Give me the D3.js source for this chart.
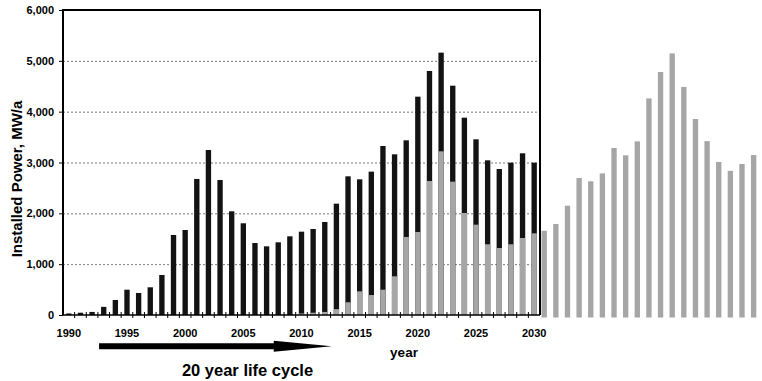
<!DOCTYPE html>
<html>
<head>
<meta charset="utf-8">
<script src="https://cdn.jsdelivr.net/npm/d3@7"></script>
<style>
  html, body { margin: 0; padding: 0; background: #fff; }
  svg { display: block; font-family: Arial, "Liberation Sans", sans-serif; }
</style>
</head>
<body>
<svg id="chart" width="762" height="381"></svg>
<script>
// Annual installed power, 1990-2030
const years = [1990,1991,1992,1993,1994,1995,1996,1997,1998,1999,
               2000,2001,2002,2003,2004,2005,2006,2007,2008,2009,
               2010,2011,2012,2013,2014,2015,2016,2017,2018,2019,
               2020,2021,2022,2023,2024,2025,2026,2027,2028,2029,2030];
const installed = [30,45,60,160,295,498,433,545,787,1574,
                   1672,2676,3246,2656,2040,1804,1416,1351,1430,1548,
                   1639,1692,1830,2190,2728,2669,2820,3325,3161,3436,
                   4295,4800,5161,4511,3882,3456,3043,2872,2997,3181,2997];
// Share of each year's installations that replaces retired plant (2010-2030)
const replacementYears = [2010,2011,2012,2013,2014,2015,2016,2017,2018,2019,
                          2020,2021,2022,2023,2024,2025,2026,2027,2028,2029,2030];
const replacement = [30,45,60,115,250,466,393,498,761,1535,
                     1633,2636,3220,2623,2007,1777,1391,1318,1391,1515,1607];
// Replacement demand continuing beyond the chart frame
const laterYears = [2031,2032,2033,2034,2035,2036,2037,2038,2039,2040,
                    2041,2042,2043,2044,2045,2046,2047,2048,2049,2050];
const laterReplacement = [1705,1840,2200,2745,2680,2835,3335,3190,3465,4310,
                          4830,5195,4535,3905,3470,3060,2885,3020,3195,2980];
const yTicks = [0,1000,2000,3000,4000,5000,6000];
const xLabelYears = [1990,1995,2000,2005,2010,2015,2020,2025,2030];

const svg = d3.select("#chart");
const plotLeft = 63, plotRight = 540, plotTop = 10, plotBottom = 315;
const step = (plotRight - plotLeft) / years.length;

const x = d3.scaleBand()
  .domain(years.concat(laterYears))
  .range([plotLeft, plotLeft + step * (years.length + laterYears.length)])
  .paddingInner(0.54)
  .paddingOuter(0.27);
const y = d3.scaleLinear().domain([0, 6000]).range([plotBottom, plotTop]);
const cx = yr => x(yr) + x.bandwidth() / 2;
const yearPos = d3.scaleLinear().domain([1990, 2030]).range([cx(1990), cx(2030)]);

const black = "#131313", grey = "#a6a6a6";

// Dotted gridlines
svg.append("g").selectAll("line")
  .data(yTicks.filter(v => v > 0 && v < 6000))
  .join("line")
  .attr("x1", plotLeft).attr("x2", plotRight)
  .attr("y1", d => y(d) + 0.5).attr("y2", d => y(d) + 0.5)
  .attr("stroke", "#777").attr("stroke-width", 1)
  .attr("stroke-dasharray", "2,2");

// Continuation bars (beyond 2030)
svg.append("g")
  .attr("transform", "translate(-1.6,2.5)")
  .selectAll("rect")
  .data(laterYears.map((yr, i) => ({ yr, v: laterReplacement[i] })))
  .join("rect")
  .attr("x", d => x(d.yr))
  .attr("width", x.bandwidth())
  .attr("y", d => y(d.v))
  .attr("height", d => y(0) - y(d.v))
  .attr("fill", grey);

// Total installations
svg.append("g").selectAll("rect")
  .data(years.map((yr, i) => ({ yr, v: installed[i] })))
  .join("rect")
  .attr("x", d => x(d.yr))
  .attr("width", x.bandwidth())
  .attr("y", d => y(d.v))
  .attr("height", d => y(0) - y(d.v))
  .attr("fill", black);

// Replacement portion
svg.append("g").selectAll("rect")
  .data(replacementYears.map((yr, i) => ({ yr, v: replacement[i] })))
  .join("rect")
  .attr("x", d => x(d.yr))
  .attr("width", x.bandwidth())
  .attr("y", d => y(d.v))
  .attr("height", d => y(0) - y(d.v))
  .attr("fill", grey);

// Frame
svg.append("path")
  .attr("d", `M${plotLeft},${plotBottom}V${plotTop}H${plotRight}V${plotBottom}`)
  .attr("fill", "none").attr("stroke", "#000").attr("stroke-width", 2);

// Y axis
const yAxis = d3.axisLeft(y).tickValues(yTicks).tickSize(4).tickPadding(5)
  .tickFormat(d3.format(","));
const gy = svg.append("g").attr("transform", `translate(${plotLeft},0)`).call(yAxis);
gy.select(".domain").remove();
gy.selectAll(".tick line").attr("stroke", "#000");
gy.selectAll("text").attr("font-size", 11).attr("font-weight", "bold").attr("fill", "#000")
  .attr("font-family", "Arial, 'Liberation Sans', sans-serif");

// X axis line, ticks between bars, labels every five years
svg.append("line")
  .attr("x1", plotLeft).attr("x2", plotRight).attr("y1", plotBottom).attr("y2", plotBottom)
  .attr("stroke", "#000").attr("stroke-width", 1.6);
svg.append("g").selectAll("line")
  .data(years.slice(1))
  .join("line")
  .attr("x1", d => cx(d) - step / 2).attr("x2", d => cx(d) - step / 2)
  .attr("y1", plotBottom - 3).attr("y2", plotBottom + 3)
  .attr("stroke", "#000").attr("stroke-width", 1);
svg.append("g").selectAll("text")
  .data(xLabelYears)
  .join("text")
  .attr("x", d => cx(d))
  .attr("y", plotBottom + 22)
  .attr("text-anchor", "middle")
  .attr("font-size", 11).attr("font-weight", "bold")
  .text(d => d);

// Axis titles
svg.append("text")
  .attr("transform", "translate(21.5,179) rotate(-90)")
  .attr("text-anchor", "middle")
  .attr("font-size", 15).attr("font-weight", "bold")
  .text("Installed Power, MW/a");
svg.append("text")
  .attr("x", 404).attr("y", 357)
  .attr("text-anchor", "middle")
  .attr("font-size", 13.5).attr("font-weight", "bold")
  .text("year");

// Life-cycle arrow spanning 20 years
const a0 = yearPos(1992.6), a1 = yearPos(2012.6), ay = 346.3;
const headLen = 58;
svg.append("path")
  .attr("d", `M${a0},${ay - 3}H${a1 - headLen}V${ay - 5.5}L${a1},${ay}L${a1 - headLen},${ay + 5.5}V${ay + 3}H${a0}Z`)
  .attr("fill", "#000");
svg.append("text")
  .attr("x", 247.5).attr("y", 376)
  .attr("text-anchor", "middle")
  .attr("font-size", 16.5).attr("font-weight", "bold")
  .text("20 year life cycle");
</script>
</body>
</html>
